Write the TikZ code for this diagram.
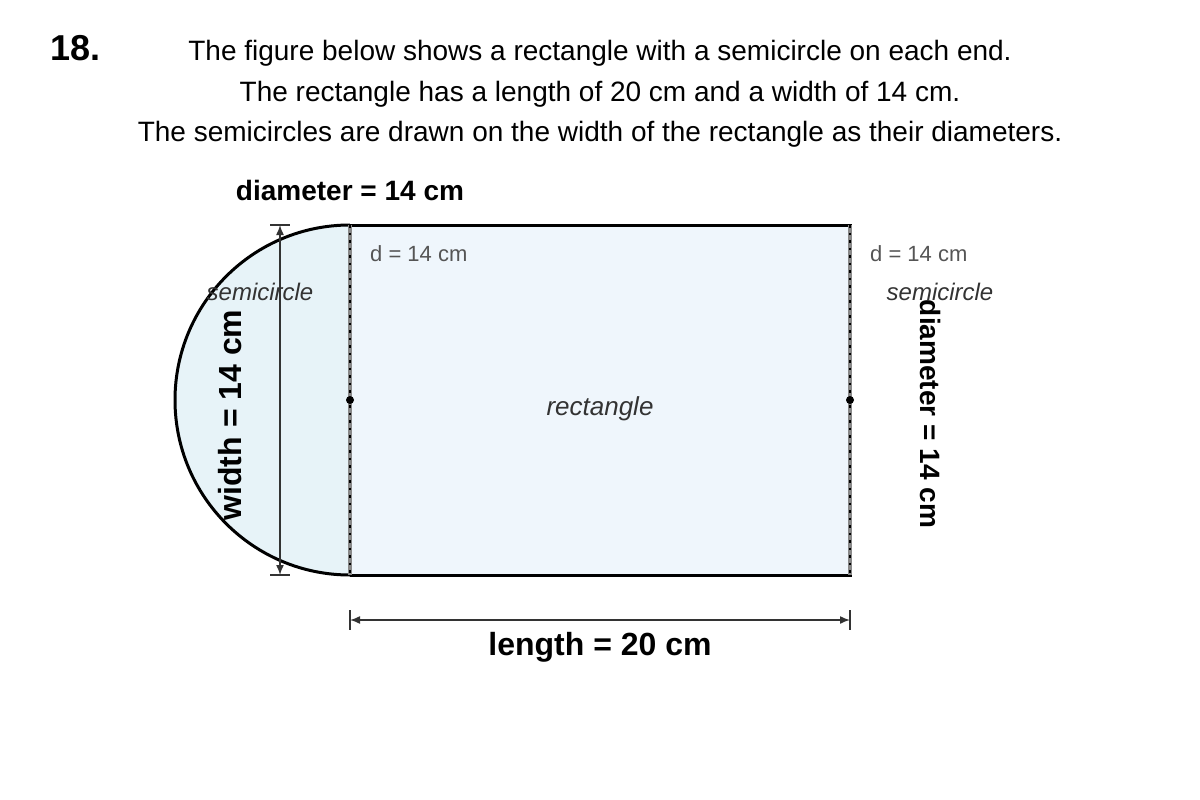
\documentclass[tikz,border=0pt]{standalone}
\usepackage{fontspec}
\setmainfont{Liberation Sans}
\usetikzlibrary{arrows.meta,calc,positioning}
\definecolor{rectfill}{HTML}{EFF6FC}
\definecolor{semifill}{HTML}{E7F3F8}
\definecolor{dimgray}{HTML}{333333}
\definecolor{dgray}{HTML}{555555}
\definecolor{diamgray}{HTML}{888888}
\newcommand\fsz[1]{\fontsize{#1}{#1}\selectfont}

\begin{document}
\begin{tikzpicture}[x=1pt, y=-1pt,
    outline/.style={line width=3pt, black},
    diamline/.style={line width=3.5pt, diamgray},
    diamdash/.style={line width=1.5pt, black, dash pattern=on 2.5pt off 5pt},
    dimline/.style={line width=1.5pt, dimgray},
    dimarrow/.style={dimline, {Latex[length=10pt,width=8pt]}-{Latex[length=10pt,width=8pt]}},
    bodytext/.style={anchor=base, inner sep=0pt, font=\fsz{28}},
    boldlabel/.style={inner sep=0pt, font=\fsz{28}\bfseries},
    dlabel/.style={anchor=base west, inner sep=0pt, text=dgray, font=\fsz{22}},
    partlabel/.style={anchor=base, inner sep=0pt, text=dimgray, font=\fsz{24}\itshape}]
  \useasboundingbox (0,0) rectangle (1200,800);

  % heading and question text
  \node[anchor=base west, inner sep=0pt, font=\fsz{36}\bfseries] (num) at (50,61) {18.};
  \node[bodytext] (line1) at (600,61) {The figure below shows a rectangle with a semicircle on each end.};
  \node[bodytext] (line2) at (600,101) {The rectangle has a length of 20 cm and a width of 14 cm.};
  \node[bodytext] (line3) at (600,141) {The semicircles are drawn on the width of the rectangle as their diameters.};

  % corners and centres
  \coordinate (TL) at (350,225);
  \coordinate (TR) at (850,225);
  \coordinate (BR) at (850,575);
  \coordinate (BL) at (350,575);
  \coordinate (CL) at (350,400);
  \coordinate (CR) at (850,400);

  % semicircle and rectangle
  \fill[semifill] (TL) arc (270:90:175) -- cycle;
  \draw[outline] (TL) arc (270:90:175);
  \fill[rectfill] (TL) rectangle (BR);
  \draw[outline] (TL) -- (TR) -- (BR) -- (BL);
  \draw[diamline] (TL) -- (BL);
  \draw[diamdash] (TL) -- (BL);
  \draw[diamline] (TR) -- (BR);
  \draw[diamdash] (TR) -- (BR);
  \fill (CL) circle (4);
  \fill (CR) circle (4);

  % width dimension
  \coordinate (WT) at (280,225);
  \coordinate (WB) at (280,575);
  \draw[dimarrow] (WT) -- (WB);
  \draw[dimline] (WT) ++(-10,0) --++ (20,0);
  \draw[dimline] (WB) ++(-10,0) --++ (20,0);

  % length dimension
  \coordinate (LL) at (350,620);
  \coordinate (LR) at (850,620);
  \draw[dimarrow] (LL) -- (LR);
  \draw[dimline] (LL) ++(0,-10) --++ (0,20);
  \draw[dimline] (LR) ++(0,-10) --++ (0,20);

  % labels
  \node[boldlabel, anchor=base] (diamtop) at (350,200) {diameter = 14 cm};
  \node[dlabel] (dleft) at (370,261) {d = 14 cm};
  \node[dlabel] (dright) at (870,261) {d = 14 cm};
  \node[partlabel] (semileft) at (260,300) {semicircle};
  \node[partlabel] (semiright) at (940,300) {semicircle};
  \node[partlabel, font=\fsz{26}\itshape] (rect) at (600,415) {rectangle};
  \node[boldlabel, font=\fsz{32}\bfseries, rotate=90] (width) at (230,415) {width = 14 cm};
  \node[boldlabel, rotate=-90] (diamright) at (930,414) {diameter = 14 cm};
  \node[boldlabel, font=\fsz{32}\bfseries, anchor=base] (length) at (600,655) {length = 20 cm};
\end{tikzpicture}
\end{document}
